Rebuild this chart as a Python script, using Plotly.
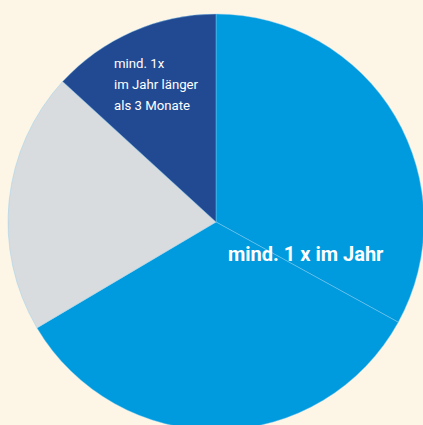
import plotly.graph_objects as go

labels = ["mind. 1 x im Jahr", "mind. 1 x im Jahr (2)", "andere", "mind. 1x<br>im Jahr länger<br>als 3 Monate"]
values = [33.0, 33.5, 20.3, 13.2]
colors = ["#009bde", "#009bde", "#d8dcde", "#224a93"]

W, H = 432, 444
L, R, T, B = 8, 8, 14, 14
pw, ph = W - L - R, H - T - B

def px(x):
    return (x - L) / pw

def py(y):
    return 1 - (y - T) / ph

fig = go.Figure(go.Pie(
    labels=labels, values=values, sort=False, direction="clockwise",
    marker=dict(colors=colors, line=dict(color="rgba(140,205,240,0.7)", width=0.6)),
    textinfo="none", hoverinfo="skip", showlegend=False,
))

FONT = "Roboto, sans-serif"
fig.add_annotation(x=px(306), y=py(254), xref="paper", yref="paper", xanchor="center", yanchor="middle",
                   text="<b>" + labels[0] + "</b>", showarrow=False,
                   font=dict(family=FONT, size=20, color="white"))
for i, line in enumerate(labels[3].split("<br>")):
    fig.add_annotation(x=px(112), y=py(63 + 21 * i), xref="paper", yref="paper",
                       xanchor="left", yanchor="middle", align="left", text=line, showarrow=False,
                       font=dict(family=FONT, size=13.2, color="white"))

fig.update_layout(width=W, height=H, margin=dict(l=L, r=R, t=T, b=B),
                  paper_bgcolor="#fdf6e7", plot_bgcolor="#fdf6e7")

fig.write_html("out.html", post_script="document.documentElement.style.overflow='hidden';document.body.style.overflow='hidden';document.body.style.margin='0';")
